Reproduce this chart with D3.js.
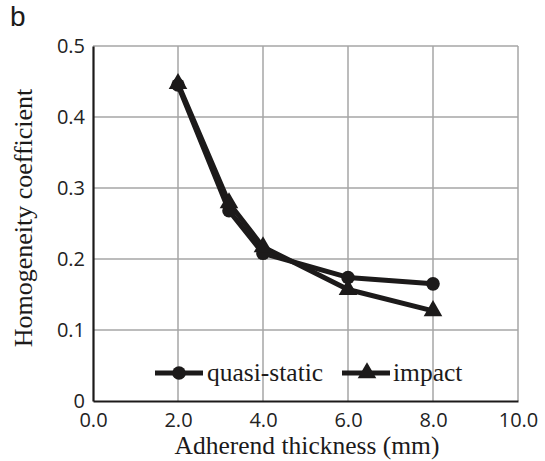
<!DOCTYPE html>
<html><head><meta charset="utf-8">
<script src="https://cdn.jsdelivr.net/npm/d3@7"></script>
<style>body{margin:0;background:#fff}</style>
</head><body>
<svg id="c" width="545" height="461"></svg>
<script>
const thickness = [2.0, 3.2, 4.0, 6.0, 8.0];
const quasiStatic = [0.445, 0.268, 0.208, 0.174, 0.165];
const impact = [0.447, 0.279, 0.217, 0.157, 0.127];
const xTicks = [0, 2, 4, 6, 8, 10];
const yTicks = [0, 0.1, 0.2, 0.3, 0.4, 0.5];
const seriesNames = ["quasi-static", "impact"];

const svg = d3.select("#c");
const L = 93, R = 518, T = 46, B = 401;
const x = d3.scaleLinear().domain([0, 10]).range([L, R]);
const y = d3.scaleLinear().domain([0, 0.5]).range([B, T]);
const serif = "'Liberation Serif', 'Times New Roman', serif";
const sans = "'Open Sans', 'Noto Sans', sans-serif";
const ink = "#1c1a1a";

// grid
svg.append("g").selectAll("line").data(xTicks.slice(1)).join("line")
  .attr("x1", d => x(d)).attr("x2", d => x(d)).attr("y1", T).attr("y2", B)
  .attr("stroke", "#a6a6a6").attr("stroke-width", 1.5);
svg.append("g").selectAll("line").data(yTicks.slice(1)).join("line")
  .attr("x1", L).attr("x2", R).attr("y1", d => y(d)).attr("y2", d => y(d))
  .attr("stroke", "#a6a6a6").attr("stroke-width", 1.5);

// axes
const xAxis = svg.append("g").attr("transform", `translate(0,${B})`)
  .call(d3.axisBottom(x).tickValues(xTicks).tickFormat(d3.format(".1f")).tickSize(0));
const yAxis = svg.append("g").attr("transform", `translate(${L},0)`)
  .call(d3.axisLeft(y).tickValues(yTicks).tickFormat(d => d === 0 ? "0" : d3.format(".1f")(d)).tickSize(0).tickPadding(8));
[xAxis, yAxis].forEach(g => {
  g.select(".domain").attr("stroke", ink).attr("stroke-width", 2.2);
  g.selectAll("text").attr("font-family", sans).attr("font-size", 20).attr("fill", "#222");
});
xAxis.selectAll("text").attr("y", 26).attr("dy", 0);

// lines
const line = d3.line().x((d, i) => x(thickness[i])).y(d => y(d));
[quasiStatic, impact].forEach(s => {
  svg.append("path").datum(s).attr("d", line).attr("fill", "none")
    .attr("stroke", ink).attr("stroke-width", 5).attr("stroke-linejoin", "round");
});
const tri = d3.symbol().type(d3.symbolTriangle).size(150);
svg.append("g").selectAll("circle").data(quasiStatic).join("circle")
  .attr("cx", (d, i) => x(thickness[i])).attr("cy", d => y(d)).attr("r", 6.8).attr("fill", ink);
svg.append("g").selectAll("path").data(impact).join("path")
  .attr("d", tri).attr("transform", (d, i) => `translate(${x(thickness[i])},${y(d)})`).attr("fill", ink);

// legend
const lg = svg.append("g").attr("font-family", serif).attr("font-size", 25.5).attr("fill", ink);
const ly = 373;
lg.append("line").attr("x1", 155).attr("x2", 203).attr("y1", ly).attr("y2", ly).attr("stroke", ink).attr("stroke-width", 5);
lg.append("circle").attr("cx", 179).attr("cy", ly).attr("r", 6.8).attr("fill", ink);
lg.append("text").attr("x", 207).attr("y", ly + 8).text(seriesNames[0]);
lg.append("line").attr("x1", 342).attr("x2", 390).attr("y1", ly).attr("y2", ly).attr("stroke", ink).attr("stroke-width", 5);
lg.append("path").attr("d", tri).attr("transform", `translate(367,${ly})`).attr("fill", ink);
lg.append("text").attr("x", 393).attr("y", ly + 8).text(seriesNames[1]);

// titles
svg.append("text").attr("x", 307).attr("y", 454).attr("text-anchor", "middle")
  .attr("font-family", serif).attr("font-size", 25.5).attr("fill", ink).text("Adherend thickness (mm)");
svg.append("text").attr("transform", `translate(32,218) rotate(-90)`).attr("text-anchor", "middle")
  .attr("font-family", serif).attr("font-size", 26).attr("fill", ink).text("Homogeneity coefficient");
svg.append("text").attr("x", 10).attr("y", 26).attr("font-family", "'Liberation Sans', Arial, sans-serif").attr("font-size", 28).attr("fill", ink).text("b");
</script>
</body></html>
